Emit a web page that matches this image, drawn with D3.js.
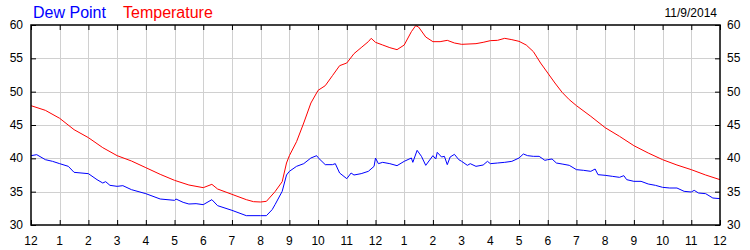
<!DOCTYPE html>
<html lang="en">
<head>
    <meta charset="UTF-8">
    <title>Dew Point and Temperature 11/9/2014</title>
    <script src="https://d3js.org/d3.v7.min.js"></script>
    <style>
        body {
            margin: 0;
            background: #fff;
            font-family: Arial, "Liberation Sans", sans-serif;
        }
        .grid line {
            stroke: #d0d0d0;
            stroke-width: 1;
        }
        .tick-label {
            font-size: 12px;
            fill: #000;
        }
        .frame {
            fill: none;
            stroke: #000;
            stroke-width: 1.5;
        }
    </style>
</head>
<body>
    <svg id="chart"></svg>

    <script>
        // hours after midnight + readings (degrees F)
        const tempHours = [0, 0.5, 1, 1.5, 2, 2.5, 3, 3.5, 4, 4.5, 5, 5.5, 6, 6.3, 6.5, 7, 7.5, 7.75, 8, 8.2,
            8.5, 8.75, 8.9, 9, 9.25, 9.5, 9.75, 10, 10.25, 10.5, 10.75, 11, 11.25, 11.5, 11.75, 11.85, 12,
            12.25, 12.5, 12.75, 13, 13.25, 13.4, 13.5, 13.75, 14, 14.25, 14.5, 14.75, 15, 15.5, 15.75, 16,
            16.25, 16.5, 16.75, 17, 17.25, 17.5, 17.75, 18, 18.25, 18.5, 18.75, 19, 19.5, 20, 20.5, 21,
            21.5, 22, 22.5, 23, 23.5, 24];
        const temperature = [47.9, 47.2, 46.0, 44.3, 43.1, 41.6, 40.4, 39.6, 38.6, 37.6, 36.7, 36.0, 35.6, 36.1, 35.4, 34.6, 33.8, 33.5, 33.45, 33.55,
            35.0, 36.5, 39.3, 40.4, 42.5, 45.3, 48.3, 50.2, 50.9, 52.4, 53.9, 54.3, 55.7, 56.6, 57.5, 58.0, 57.4,
            57.0, 56.6, 56.3, 57.0, 59.0, 59.9, 59.7, 58.2, 57.5, 57.5, 57.7, 57.3, 57.1, 57.2, 57.4, 57.65,
            57.7, 58.0, 57.8, 57.55, 57.0, 56.0, 54.3, 52.8, 51.3, 49.9, 48.8, 47.9, 46.3, 44.6, 43.3, 41.9,
            40.8, 39.8, 39.0, 38.3, 37.5, 36.8];

        const dewHours = [0, 0.2, 0.5, 0.75, 1, 1.3, 1.5, 2, 2.3, 2.5, 2.6, 2.75, 3, 3.2, 3.5, 4, 4.5, 5, 5.05, 5.3,
            5.5, 5.75, 6, 6.3, 6.5, 7, 7.5, 8, 8.2, 8.4, 8.5, 8.75, 8.9, 9, 9.25, 9.5, 9.75, 9.95, 10, 10.25,
            10.5, 10.6, 10.75, 11, 11.15, 11.25, 11.5, 11.75, 11.95, 12, 12.1, 12.25, 12.5, 12.75, 13, 13.25,
            13.3, 13.45, 13.6, 13.75, 14, 14.1, 14.15, 14.3, 14.4, 14.5, 14.6, 14.75, 14.9, 15, 15.2, 15.3,
            15.5, 15.75, 15.9, 16, 16.25, 16.5, 16.75, 17, 17.15, 17.3, 17.5, 17.7, 17.9, 18, 18.15, 18.3,
            18.5, 18.75, 19, 19.25, 19.5, 19.65, 19.75, 20, 20.25, 20.5, 20.65, 20.75, 21, 21.25, 21.5,
            21.75, 22, 22.25, 22.5, 22.75, 23, 23.1, 23.25, 23.5, 23.75, 24];
        const dewPoint = [40.4, 40.55, 39.8, 39.55, 39.2, 38.8, 37.9, 37.7, 36.8, 36.3, 36.5, 35.95, 35.8, 35.9, 35.3, 34.7, 33.9, 33.7, 33.9, 33.4,
            33.15, 33.2, 33.05, 33.8, 32.9, 32.2, 31.4, 31.4, 31.4, 32.3, 33.05, 35.05, 37.5, 38.05, 38.8, 39.2, 40.05, 40.4, 40.1, 39.05,
            39.05, 39.2, 37.8, 36.95, 37.8, 37.5, 37.7, 38.05, 38.8, 40.05, 39.2, 39.4, 39.2, 38.9, 39.55, 40.05,
            39.4, 41.2, 40.3, 38.95, 40.4, 39.9, 40.9, 40.2, 40.3, 39.05, 40.2, 40.6, 39.8, 39.55, 38.95, 39.2,
            38.8, 39.0, 39.55, 39.2, 39.3, 39.4, 39.55, 40.05, 40.65, 40.4, 40.3, 40.3, 39.7, 39.8, 39.9, 39.3,
            39.15, 38.95, 38.3, 38.2, 38.05, 38.4, 37.55, 37.45, 37.3, 37.15, 37.4, 36.8, 36.55, 36.55, 36.15,
            35.95, 35.65, 35.55, 35.55, 35.05, 34.95, 35.2, 34.8, 34.7, 34.05, 33.95];

        const yTicks = [30, 35, 40, 45, 50, 55, 60];
        const hourTicks = d3.range(0, 25);
        const hourLabels = hourTicks.map(h => (h % 12 === 0 ? 12 : h % 12));

        const width = 750;
        const height = 250;
        const margin = {top: 25, right: 30, bottom: 25, left: 31};

        const svg = d3.select("#chart")
            .attr("width", width)
            .attr("height", height);

        const x = d3.scaleLinear().domain([0, 24]).range([margin.left, width - margin.right]);
        const y = d3.scaleLinear().domain([30, 60]).range([height - margin.bottom, margin.top]);

        // gridlines
        const grid = svg.append("g").attr("class", "grid");
        grid.selectAll(".vg")
            .data(hourTicks.slice(1, -1))
            .enter().append("line")
            .attr("x1", d => Math.round(x(d)) + 0.5)
            .attr("x2", d => Math.round(x(d)) + 0.5)
            .attr("y1", y(60))
            .attr("y2", y(30));
        grid.selectAll(".hg")
            .data(yTicks.slice(1, -1))
            .enter().append("line")
            .attr("x1", x(0))
            .attr("x2", x(24))
            .attr("y1", d => Math.round(y(d)) + 0.5)
            .attr("y2", d => Math.round(y(d)) + 0.5);

        // axes (ticks pointing inward)
        svg.append("g")
            .attr("transform", `translate(0,${y(30)})`)
            .call(d3.axisTop(x).tickValues(hourTicks).tickSize(5).tickFormat(""));
        svg.append("g")
            .attr("transform", `translate(0,${y(60)})`)
            .call(d3.axisBottom(x).tickValues(hourTicks).tickSize(5).tickFormat(""));
        svg.append("g")
            .attr("transform", `translate(${x(0)},0)`)
            .call(d3.axisRight(y).tickValues(yTicks).tickSize(5).tickFormat(""));
        svg.append("g")
            .attr("transform", `translate(${x(24)},0)`)
            .call(d3.axisLeft(y).tickValues(yTicks).tickSize(5).tickFormat(""));
        svg.selectAll(".domain").remove();
        svg.selectAll(".tick line").attr("stroke", "#000");

        // tick labels
        svg.append("g").selectAll("text")
            .data(hourTicks)
            .enter().append("text")
            .attr("class", "tick-label")
            .attr("x", d => x(d))
            .attr("y", y(30) + 20)
            .attr("text-anchor", "middle")
            .text((d, i) => hourLabels[i]);
        svg.append("g").selectAll("text")
            .data(yTicks)
            .enter().append("text")
            .attr("class", "tick-label")
            .attr("x", x(0) - 8)
            .attr("y", d => y(d) + 4)
            .attr("text-anchor", "end")
            .text(d => d);
        svg.append("g").selectAll("text")
            .data(yTicks)
            .enter().append("text")
            .attr("class", "tick-label")
            .attr("x", x(24) + 7)
            .attr("y", d => y(d) + 4)
            .text(d => d);

        // series
        const line = d3.line()
            .x(d => x(d[0]))
            .y(d => y(d[1]));

        svg.append("path")
            .datum(d3.zip(dewHours, dewPoint))
            .attr("fill", "none")
            .attr("stroke", "#0000ff")
            .attr("stroke-width", 1)
            .attr("d", line);

        svg.append("path")
            .datum(d3.zip(tempHours, temperature))
            .attr("fill", "none")
            .attr("stroke", "#ff0000")
            .attr("stroke-width", 1)
            .attr("d", line);

        // frame
        svg.append("rect")
            .attr("class", "frame")
            .attr("x", x(0))
            .attr("y", y(60))
            .attr("width", x(24) - x(0))
            .attr("height", y(30) - y(60));

        // legend + date
        svg.append("text")
            .attr("x", 33)
            .attr("y", 18)
            .attr("font-size", 16)
            .attr("fill", "#0000ff")
            .text("Dew Point");
        svg.append("text")
            .attr("x", 123)
            .attr("y", 18)
            .attr("font-size", 16)
            .attr("fill", "#ff0000")
            .text("Temperature");
        svg.append("text")
            .attr("x", 717)
            .attr("y", 17)
            .attr("font-size", 12)
            .attr("text-anchor", "end")
            .attr("fill", "#000")
            .text("11/9/2014");
    </script>
</body>
</html>
